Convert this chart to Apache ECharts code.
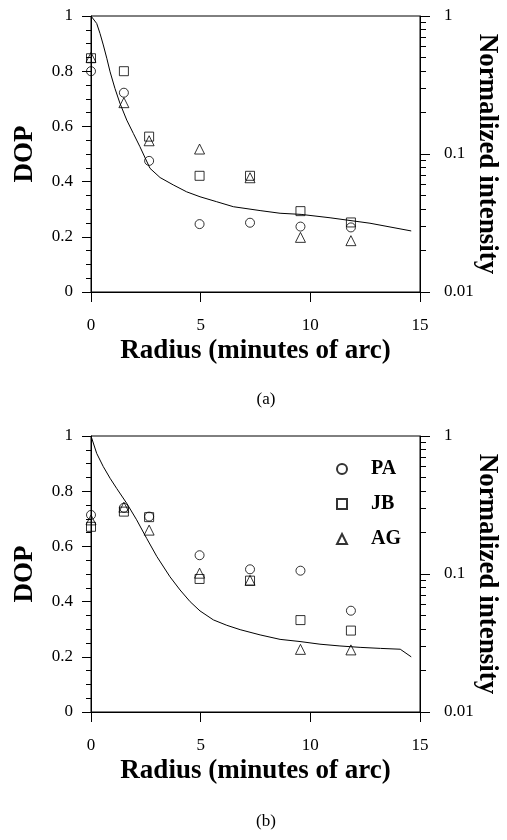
<!DOCTYPE html>
<html><head><meta charset="utf-8">
<script src="https://cdn.jsdelivr.net/npm/echarts@6/dist/echarts.min.js"></script>
<style>html,body{margin:0;padding:0;background:#fff}#c{width:507px;height:840px}</style>
</head><body><div id="c"></div>
<script>
// ---- data ----
const radius = [0, 1.5, 2.65, 4.95, 7.25, 9.55, 11.85];
const seriesNames = ['PA', 'JB', 'AG'];
// panel (a) DOP values
const a_PA = [0.80, 0.722, 0.475, 0.246, 0.251, 0.237, 0.234];
const a_JB = [0.847, 0.80, 0.563, 0.421, 0.421, 0.293, 0.252];
const a_AG = [0.85, 0.686, 0.548, 0.518, 0.414, 0.198, 0.186];
// panel (b) DOP values
const b_PA = [0.714, 0.74, 0.708, 0.568, 0.517, 0.512, 0.367];
const b_JB = [0.671, 0.726, 0.706, 0.482, 0.476, 0.333, 0.295];
const b_AG = [0.696, 0.742, 0.659, 0.503, 0.477, 0.227, 0.225];
// normalized intensity curves (log axis)
const a_curveR = [0, 0.26, 0.41, 0.56, 0.72, 0.87, 1.09, 1.32, 1.63, 1.93, 2.23, 2.69, 3.15, 3.75, 4.36, 4.97, 5.73, 6.49, 7.71, 8.62, 9.58, 10.9, 12.72, 14.6];
const a_curveI = [1.0, 0.883, 0.748, 0.617, 0.494, 0.394, 0.299, 0.233, 0.176, 0.141, 0.113, 0.0787, 0.0675, 0.0597, 0.0532, 0.049, 0.0451, 0.0415, 0.0389, 0.0372, 0.0365, 0.0345, 0.0315, 0.0277];
const b_curveR = [0, 0.26, 0.56, 0.87, 1.17, 1.63, 2.08, 2.54, 3.0, 3.6, 4.06, 4.52, 4.97, 5.58, 6.19, 6.8, 7.71, 8.62, 9.53, 10.44, 11.35, 12.27, 13.2, 14.1, 14.6];
const b_curveI = [1.0, 0.748, 0.6, 0.494, 0.417, 0.325, 0.247, 0.181, 0.134, 0.0955, 0.0766, 0.063, 0.054, 0.0465, 0.0425, 0.0395, 0.0362, 0.0336, 0.0324, 0.031, 0.0301, 0.0294, 0.0289, 0.0285, 0.0251];
// axis ticks
const logMajorTicks = [0.01, 0.1, 1];
const logMinorTicks = [0.02, 0.03, 0.04, 0.05, 0.06, 0.07, 0.08, 0.09, 0.2, 0.3, 0.4, 0.5, 0.6, 0.7, 0.8, 0.9];
const panelLabels = ['(a)', '(b)'];

// ---- chart ----
const FONT = "'Liberation Serif', 'DejaVu Serif', serif";
const panels = [
  { top: 16, dop: [a_PA, a_JB, a_AG], cr: a_curveR, ci: a_curveI, labelY: 400 },
  { top: 436, dop: [b_PA, b_JB, b_AG], cr: b_curveR, ci: b_curveI, labelY: 822 }
];
const symbols = ['circle', 'rect', 'triangle'];
const symSizes = [9, 9, [10, 10]];

const grid = [], xAxis = [], yAxis = [], series = [], graphic = [];
panels.forEach((p, g) => {
  grid.push({ left: 91, top: p.top, width: 329, height: 276, show: true, borderColor: '#000', borderWidth: 1, outerBoundsMode: 'none', containLabel: false });
  xAxis.push({
    type: 'value', gridIndex: g, min: 0, max: 15, interval: 5,
    axisLine: { show: true, onZero: false, lineStyle: { color: '#000', width: 1 } },
    axisTick: { show: true, inside: false, length: 10, lineStyle: { color: '#000' } },
    splitLine: { show: false },
    axisLabel: { color: '#000', fontFamily: FONT, fontSize: 17, margin: 25 },
    name: 'Radius (minutes of arc)', nameLocation: 'middle', nameGap: 46, nameMoveOverlap: false,
    nameTextStyle: { color: '#000', fontFamily: FONT, fontSize: 27, fontWeight: 'bold' }
  });
  // left DOP axis
  yAxis.push({
    type: 'value', gridIndex: g, min: 0, max: 1, interval: 0.2, position: 'left',
    axisLine: { show: true, onZero: false, lineStyle: { color: '#000', width: 1 } },
    axisTick: { show: true, inside: false, length: 9, lineStyle: { color: '#000' } },
    minorTick: { show: true, splitNumber: 4, length: 5, lineStyle: { color: '#000' } },
    splitLine: { show: false }, minorSplitLine: { show: false },
    axisLabel: { color: '#000', fontFamily: FONT, fontSize: 17, margin: 18 },
    name: 'DOP', nameLocation: 'middle', nameGap: 52, nameMoveOverlap: false,
    nameTextStyle: { color: '#000', fontFamily: FONT, fontSize: 27, fontWeight: 'bold' }
  });
  // right log axis (major ticks)
  yAxis.push({
    type: 'log', logBase: 10, gridIndex: g, min: 0.01, max: 1, position: 'right',
    axisLine: { show: true, onZero: false, lineStyle: { color: '#000', width: 1 } },
    axisTick: { show: true, inside: false, length: 10, customValues: logMajorTicks, lineStyle: { color: '#000' } },
    splitLine: { show: false },
    axisLabel: { color: '#000', fontFamily: FONT, fontSize: 17, margin: 24, customValues: logMajorTicks },
    name: 'Normalized intensity', nameLocation: 'middle', nameGap: 53, nameRotate: -90, nameMoveOverlap: false,
    nameTextStyle: { color: '#000', fontFamily: FONT, fontSize: 27, fontWeight: 'bold' }
  });
  // right log axis (minor ticks)
  yAxis.push({
    type: 'log', logBase: 10, gridIndex: g, min: 0.01, max: 1, position: 'right', offset: 0,
    axisLine: { show: false, onZero: false },
    axisTick: { show: true, inside: false, length: 6, customValues: logMinorTicks, lineStyle: { color: '#000' } },
    splitLine: { show: false },
    axisLabel: { show: false }
  });
  const yl = g * 3, yr = g * 3 + 1;
  series.push({
    type: 'line', xAxisIndex: g, yAxisIndex: yr, showSymbol: false, symbol: 'none',
    lineStyle: { color: '#000', width: 1 }, silent: true, z: 1,
    data: p.cr.map((r, i) => [r, p.ci[i]])
  });
  seriesNames.forEach((nm, k) => {
    series.push({
      type: 'scatter', name: nm, xAxisIndex: g, yAxisIndex: yl,
      symbol: symbols[k], symbolSize: symSizes[k],
      itemStyle: { color: 'rgba(0,0,0,0)', borderColor: '#000', borderWidth: 1 },
      emphasis: { disabled: true }, z: 3,
      data: radius.map((r, i) => [r, p.dop[k][i]])
    });
  });
  graphic.push({
    type: 'text', x: 266, y: p.labelY,
    style: { text: panelLabels[g], fill: '#000', font: "17px 'Liberation Serif', serif", textAlign: 'center', textVerticalAlign: 'middle' }
  });
});

const chart = echarts.init(document.getElementById('c'), null, { renderer: 'canvas' });
chart.setOption({
  animation: false,
  backgroundColor: '#fff',
  grid, xAxis, yAxis, series, graphic,
  legend: {
    data: seriesNames, orient: 'vertical', left: 331, top: 454,
    itemWidth: 10, itemHeight: 10, itemGap: 15, selectedMode: false,
    textStyle: { color: '#000', fontFamily: FONT, fontSize: 20, fontWeight: 'bold', padding: [0, 0, 0, 19] }
  }
});
</script></body></html>
